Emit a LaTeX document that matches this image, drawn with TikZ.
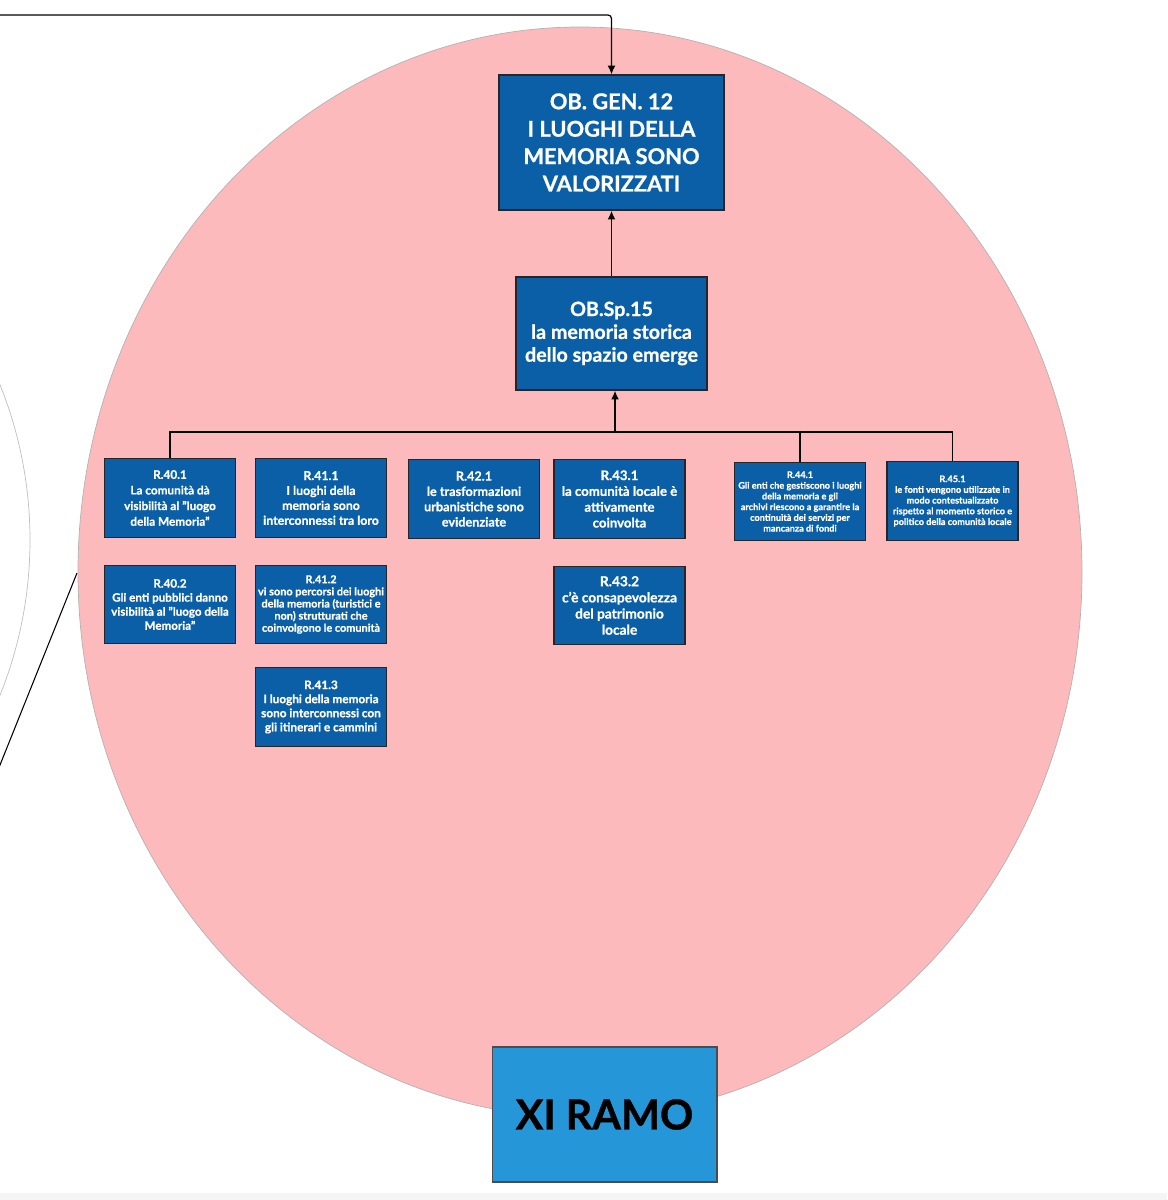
\documentclass[tikz,border=0pt]{standalone}
\usepackage{xcolor}
\usepackage{fontspec}
\setmainfont{Lato}[BoldFeatures={FakeBold=0.9}]
\usepackage{tikz}
\usetikzlibrary{positioning,arrows.meta}

\definecolor{obblue}{HTML}{0A5FA6}
\definecolor{ramoblue}{HTML}{2597D9}
\definecolor{ramopink}{HTML}{FDBABD}

\begin{document}
\begin{tikzpicture}[x=0.02cm,y=-0.02cm,on grid,>={Latex[length=5pt,width=4.5pt]},
    res/.style={draw=black!85,fill=obblue,text=white,align=center,inner sep=1pt,
      minimum width=2.62cm,minimum height=1.57cm,line width=0.8pt},
    wire/.style={line width=0.9pt}]
  \useasboundingbox (0,0) rectangle (1167,1200);
  \fill[gray!8] (0,1193) rectangle (1167,1200);

  % neighbouring branch and this one
  \draw[gray!50,line width=0.4pt] (-385,540) circle [radius=415];
  \draw[fill=ramopink,draw=gray!60,line width=0.4pt] (580,572) ellipse [x radius=502,y radius=545];

  \node[res,minimum width=4.5cm,minimum height=2.7cm,font=\bfseries\fontsize{12.4}{15.6}\selectfont] (gen) at (611.5,142.5) {OB. GEN. 12\\I LUOGHI DELLA\\MEMORIA SONO\\VALORIZZATI};
  \node[res,minimum width=3.82cm,minimum height=2.26cm,font=\bfseries\fontsize{11.2}{13}\selectfont] (sp15) [below=3.82cm of gen] {OB.Sp.15\\la memoria storica\\dello spazio emerge};

  \node[res,font=\bfseries\fontsize{6.7}{8.9}\selectfont] (r401) at (170,498) {R.40.1\\La comunità dà\\visibilità al "luogo\\della Memoria"};
  \node[res,font=\bfseries\fontsize{7}{8.5}\selectfont] (r411) at (321,498) {R.41.1\\I luoghi della\\memoria sono\\interconnessi tra loro};
  \node[res,font=\bfseries\fontsize{7.2}{8.7}\selectfont] (r421) at (474,499) {R.42.1\\le trasformazioni\\urbanistiche sono\\evidenziate};
  \node[res,font=\bfseries\fontsize{7.5}{9}\selectfont] (r431) at (619.5,499) {R.43.1\\la comunità locale è\\attivamente\\coinvolta};
  \node[res,font=\bfseries\fontsize{5.2}{6.1}\selectfont] (r441) at (800,501.5) {R.44.1\\Gli enti che gestiscono i luoghi\\della memoria e gli\\archivi  riescono a garantire la\\continuità dei servizi per\\mancanza di fondi};
  \node[res,font=\bfseries\fontsize{5.2}{6.1}\selectfont] (r451) at (952.5,501) {R.45.1\\le fonti vengono utilizzate  in\\modo contestualizzato\\rispetto al momento storico e\\politico della comunità locale};

  \node[res,font=\bfseries\fontsize{6.6}{8}\selectfont] (r402) [below=2.13cm of r401] {R.40.2\\Gli enti pubblici danno\\visibilità al "luogo della\\Memoria"};
  \node[res,font=\bfseries\fontsize{6.2}{6.9}\selectfont] (r412) [below=2.13cm of r411] {R.41.2\\vi sono percorsi dei luoghi\\della memoria (turistici e\\non) strutturati che\\coinvolgono le comunità};
  \node[res,font=\bfseries\fontsize{6.7}{8}\selectfont] (r413) [below=2.05cm of r412] {R.41.3\\I luoghi della memoria\\sono interconnessi con\\gli itinerari e cammini};
  \node[res,font=\bfseries\fontsize{7.8}{9.2}\selectfont] (r432) [below=2.13cm of r431] {R.43.2\\c'è consapevolezza\\del patrimonio\\locale};

  \node[draw=black!70,fill=ramoblue,line width=0.6pt,minimum width=4.5cm,minimum height=2.7cm,
    font=\bfseries\fontsize{23.5}{26}\selectfont] (ramo) at (604.5,1114.5) {XI RAMO};

  \coordinate (feed) at (-20,15);
  \coordinate (bus) at (615,432);
  \coordinate (linka) at (77,573);
  \coordinate (linkb) at (-77,957);

  \draw[->,line width=0.7pt,rounded corners=2pt] (feed) -| (gen);
  \draw[->,wire] (sp15) -- (gen);
  \draw[->,wire] (bus) -- (bus |- sp15.south);
  \draw[wire] (r401) |- (bus) -| (r451);
  \draw[wire] (r441) -- (r441 |- bus);
  \draw[line width=0.6pt] (linka) -- (linkb);
\end{tikzpicture}
\end{document}
